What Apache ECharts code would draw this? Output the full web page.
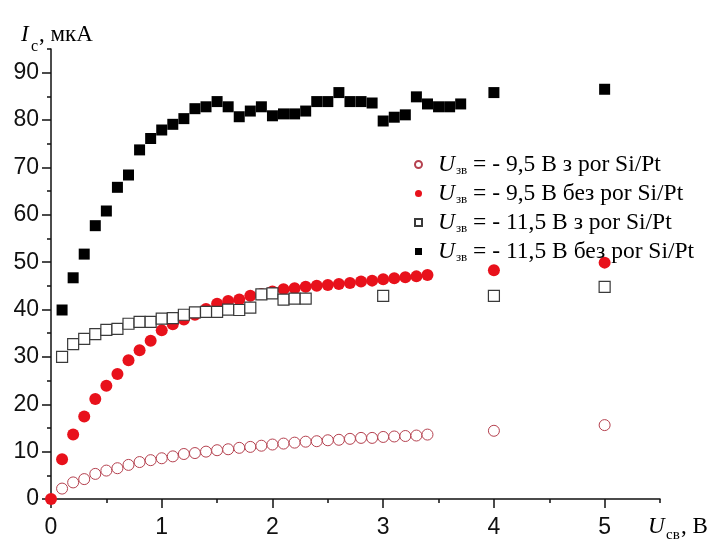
<!DOCTYPE html>
<html><head><meta charset="utf-8">
<script src="https://cdn.jsdelivr.net/npm/echarts@6/dist/echarts.min.js"></script>
<style>html,body{margin:0;padding:0;background:#fff}#c{width:720px;height:540px}</style>
</head><body><div id="c"></div>
<script>
// Series A: U = -9,5 B with por Si/Pt (open red circles)
const xA = [0.1,0.2,0.3,0.4,0.5,0.6,0.7,0.8,0.9,1.0,1.1,1.2,1.3,1.4,1.5,1.6,1.7,1.8,1.9,2.0,2.1,2.2,2.3,2.4,2.5,2.6,2.7,2.8,2.9,3.0,3.1,3.2,3.3,3.4,4,5];
const yA = [2.2,3.5,4.2,5.3,6.0,6.5,7.2,7.8,8.2,8.6,9.0,9.5,9.7,10.0,10.3,10.5,10.8,11.0,11.25,11.5,11.7,11.9,12.1,12.2,12.4,12.5,12.7,12.9,12.9,13.1,13.2,13.3,13.4,13.6,14.4,15.6];
// Series B: U = -9,5 B without por Si/Pt (filled red circles)
const xB = [0,0.1,0.2,0.3,0.4,0.5,0.6,0.7,0.8,0.9,1.0,1.1,1.2,1.3,1.4,1.5,1.6,1.7,1.8,1.9,2.0,2.1,2.2,2.3,2.4,2.5,2.6,2.7,2.8,2.9,3.0,3.1,3.2,3.3,3.4,4,5];
const yB = [0,8.4,13.6,17.4,21.1,23.9,26.4,29.3,31.4,33.4,35.6,36.9,37.9,38.9,40.1,41.2,41.8,42.1,42.9,43.3,43.8,44.3,44.5,44.8,45.0,45.2,45.4,45.6,45.9,46.1,46.4,46.6,46.8,47.0,47.3,48.3,49.9];
// Series C: U = -11,5 B with por Si/Pt (open squares)
const xC = [0.1,0.2,0.3,0.4,0.5,0.6,0.7,0.8,0.9,1.0,1.1,1.2,1.3,1.4,1.5,1.6,1.7,1.8,1.9,2.0,2.1,2.2,2.3,3,4,5];
const yC = [30.0,32.7,33.8,34.8,35.7,35.9,37.0,37.4,37.4,38.1,38.2,38.9,39.4,39.5,39.5,40.0,39.9,40.4,43.2,43.4,42.1,42.3,42.3,42.9,42.9,44.8];
// Series D: U = -11,5 B without por Si/Pt (filled squares)
const xD = [0.1,0.2,0.3,0.4,0.5,0.6,0.7,0.8,0.9,1.0,1.1,1.2,1.3,1.4,1.5,1.6,1.7,1.8,1.9,2.0,2.1,2.2,2.3,2.4,2.5,2.6,2.7,2.8,2.9,3.0,3.1,3.2,3.3,3.4,3.5,3.6,3.7,4,5];
const yD = [39.9,46.7,51.7,57.7,60.8,65.8,68.4,73.7,76.1,77.9,79.1,80.3,82.4,82.8,83.9,82.8,80.7,81.9,82.8,80.9,81.3,81.3,81.9,83.9,83.9,85.8,83.9,83.9,83.6,79.8,80.6,81.1,84.9,83.4,82.8,82.8,83.4,85.8,86.5];

const legendNames = [' = - 9,5 В з por Si/Pt', ' = - 9,5 В без por Si/Pt', ' = - 11,5 В з por Si/Pt', ' = - 11,5 В без por Si/Pt'];
const xTicks = [0,1,2,3,4,5];
const xMinorTicks = [0.5,1.5,2.5,3.5,4.5,5.5];
const yTicks = [0,10,20,30,40,50,60,70,80,90];
const yMinorTicks = [5,15,25,35,45,55,65,75,85,95];

const zip = (xs, ys) => xs.map((x, i) => [x, ys[i]]);
const serif = 'Liberation Serif';
const sans = 'Liberation Sans';

const chart = echarts.init(document.getElementById('c'), null, {renderer: 'canvas'});
const axisBase = {
  type: 'value', splitLine: {show: false},
  axisLine: {show: true, lineStyle: {color: '#111', width: 1.5}}
};
chart.setOption({
  animation: false,
  backgroundColor: '#fff',
  grid: {left: 51, right: 60, top: 49, bottom: 41, containLabel: false},
  xAxis: [
    Object.assign({}, axisBase, {min: 0, max: 5.5, interval: 0.5,
      axisTick: {show: true, inside: false, length: 9, customValues: xTicks, lineStyle: {color: '#111', width: 1.5}},
      axisLabel: {customValues: xTicks, margin: 17, fontFamily: sans, fontSize: 23, color: '#111'}}),
    Object.assign({}, axisBase, {min: 0, max: 5.5, interval: 0.5, position: 'bottom',
      axisLine: {show: false},
      axisTick: {show: true, length: 4, customValues: xMinorTicks, lineStyle: {color: '#111', width: 1.5}},
      axisLabel: {show: false}})
  ],
  yAxis: [
    Object.assign({}, axisBase, {min: 0, max: 95, interval: 5,
      axisTick: {show: true, length: 9, customValues: yTicks, lineStyle: {color: '#111', width: 1.5}},
      axisLabel: {customValues: yTicks, margin: 12, fontFamily: sans, fontSize: 23, color: '#111'}}),
    Object.assign({}, axisBase, {min: 0, max: 95, interval: 5, position: 'left',
      axisLine: {show: false},
      axisTick: {show: true, length: 4, customValues: yMinorTicks, lineStyle: {color: '#111', width: 1.5}},
      axisLabel: {show: false}})
  ],
  legend: {
    orient: 'vertical', left: 414, top: 152, padding: 0, itemGap: 4,
    itemWidth: 7, itemHeight: 7,
    formatter: name => '{u|U}{s|зв}{t|' + name.slice(3) + '}',
    textStyle: {
      fontFamily: serif, fontSize: 23.5, color: '#000',
      rich: {
        u: {fontFamily: serif, fontStyle: 'italic', fontSize: 23.5, color: '#000', padding: [0, 0, 0, 11], lineHeight: 24},
        s: {fontFamily: serif, fontSize: 13, color: '#000', padding: [12, 0, 0, 1], lineHeight: 12},
        t: {fontFamily: serif, fontSize: 23.5, color: '#000', lineHeight: 24}
      }
    }
  },
  series: [
    {name: 'Uзв' + legendNames[0], type: 'scatter', data: zip(xA, yA),
      symbol: 'circle', symbolSize: 11,
      itemStyle: {color: '#ffffff', borderColor: '#b5414f', borderWidth: 1, opacity: 1}},
    {name: 'Uзв' + legendNames[1], type: 'scatter', data: zip(xB, yB),
      symbol: 'circle', symbolSize: 12,
      itemStyle: {color: '#e8111b', opacity: 1}},
    {name: 'Uзв' + legendNames[2], type: 'scatter', data: zip(xC, yC),
      symbol: 'rect', symbolSize: 11,
      itemStyle: {color: '#ffffff', borderColor: '#3a3a3a', borderWidth: 1.2, opacity: 1}},
    {name: 'Uзв' + legendNames[3], type: 'scatter', data: zip(xD, yD),
      symbol: 'rect', symbolSize: 11,
      itemStyle: {color: '#000000', opacity: 1}}
  ],
  graphic: [
    {type: 'text', left: 21, top: 23, style: {text: 'I', font: 'italic 23px "Liberation Serif"', fill: '#000'}},
    {type: 'text', left: 31, top: 39, style: {text: 'c', font: '16px "Liberation Serif"', fill: '#000'}},
    {type: 'text', left: 39, top: 23, style: {text: ', мкА', font: '23px "Liberation Serif"', fill: '#000'}},
    {type: 'text', left: 648, top: 515, style: {text: 'U', font: 'italic 23px "Liberation Serif"', fill: '#000'}},
    {type: 'text', left: 666, top: 528, style: {text: 'св', font: '15px "Liberation Serif"', fill: '#000'}},
    {type: 'text', left: 681, top: 515, style: {text: ', В', font: '23px "Liberation Serif"', fill: '#000'}}
  ]
});
</script></body></html>
